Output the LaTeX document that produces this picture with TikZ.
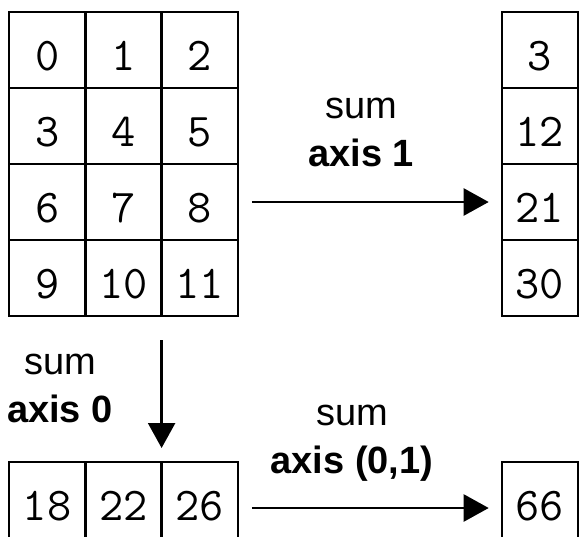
\documentclass[tikz,border=0pt]{standalone}
\usepackage{fontspec}
\usepackage{tikz}
\usetikzlibrary{arrows.meta,positioning}
\newfontfamily\labelfont{Liberation Sans}

\begin{document}
\begin{tikzpicture}[x=1pt,y=-1pt,
    cell/.style={draw, line width=2.4pt, minimum width=76.3pt, minimum height=76pt,
        inner sep=0pt, outer sep=0pt, text height=40pt, text depth=0pt,
        font=\ttfamily\fontsize{47}{47}\selectfont},
    sumlabel/.style={anchor=base, align=center, inner sep=0pt,
        font=\labelfont\fontsize{38}{48}\selectfont},
    sumarrow/.style={line width=2.4pt, -{Triangle[length=25pt,width=27pt]}}]
    \useasboundingbox (0,0) rectangle (585,536);

    \node[cell] (a-0-0) at (47.15,50) {0};
    \node[cell, right=0pt of a-0-0] (a-0-1) {1};
    \node[cell, right=0pt of a-0-1] (a-0-2) {2};
    \node[cell, below=0pt of a-0-0] (a-1-0) {3};
    \node[cell, right=0pt of a-1-0] (a-1-1) {4};
    \node[cell, right=0pt of a-1-1] (a-1-2) {5};
    \node[cell, below=0pt of a-1-0] (a-2-0) {6};
    \node[cell, right=0pt of a-2-0] (a-2-1) {7};
    \node[cell, right=0pt of a-2-1] (a-2-2) {8};
    \node[cell, below=0pt of a-2-0] (a-3-0) {9};
    \node[cell, right=0pt of a-3-0] (a-3-1) {10};
    \node[cell, right=0pt of a-3-1] (a-3-2) {11};

    \node[cell] (r-0) at (539.85,50) {3};
    \node[cell, below=0pt of r-0] (r-1) {12};
    \node[cell, below=0pt of r-1] (r-2) {21};
    \node[cell, below=0pt of r-2] (r-3) {30};

    \node[cell] (b-0) at (47.15,500) {18};
    \node[cell, right=0pt of b-0] (b-1) {22};
    \node[cell, right=0pt of b-1] (b-2) {26};

    \node[cell] (t-0) at (539.85,500) {66};

    \node[sumlabel] (l-1) at (361,166) {sum\\\textbf{axis 1}};
    \node[sumlabel] (l-0) at (60,422) {sum\\\textbf{axis 0}};
    \node[sumlabel] (l-01) at (352,473) {sum\\\textbf{axis (0,1)}};

    \draw[sumarrow, shorten <=14pt, shorten >=13pt] (a-2-2.east) -- (r-2.west);
    \draw[sumarrow, shorten <=24pt, shorten >=14pt] (a-3-1.south east) -- (b-1.north east);
    \draw[sumarrow, shorten <=14pt, shorten >=13pt] ([yshift=-8pt]b-2.east) -- ([yshift=-8pt]t-0.west);
\end{tikzpicture}
\end{document}
